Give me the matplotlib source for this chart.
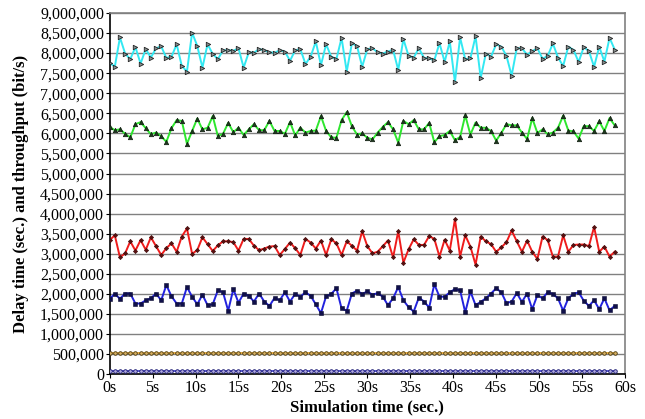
import numpy as np
import matplotlib.pyplot as plt
from matplotlib.ticker import FuncFormatter, MultipleLocator

# sample times (s), one value every 0.6 s
times = [i * 0.6 for i in range(99)]

# values, in millions
cyan_series = [7.76, 7.66, 8.39, 7.99, 7.85, 8.15, 7.74, 8.10, 7.89, 8.12,
               8.17, 7.88, 7.91, 8.22, 7.68, 7.54, 8.51, 8.18, 7.64, 8.22,
               7.98, 7.85, 8.07, 8.07, 8.06, 8.12, 7.64, 8.02, 8.01, 8.10,
               8.07, 8.02, 8.01, 8.07, 8.04, 7.81, 8.07, 8.10, 7.73, 7.91,
               8.29, 7.70, 8.22, 7.91, 7.85, 8.38, 7.54, 8.24, 8.18, 7.66,
               8.10, 8.12, 8.02, 7.99, 8.04, 8.08, 7.58, 8.35, 7.93, 7.89,
               8.12, 7.88, 7.87, 7.82, 8.25, 7.78, 8.29, 7.28, 8.39, 7.85,
               7.87, 8.42, 7.38, 7.99, 7.91, 8.22, 8.16, 7.93, 7.44, 8.12,
               8.12, 7.96, 8.05, 8.12, 7.86, 7.93, 8.24, 7.89, 7.68, 8.16,
               8.08, 7.78, 8.15, 8.05, 7.66, 8.16, 7.79, 8.38, 8.09]

green_series = [6.16, 6.08, 6.10, 5.99, 5.90, 6.23, 6.28, 6.13, 5.98, 6.02,
                5.93, 5.79, 6.13, 6.33, 6.31, 5.74, 6.06, 6.37, 6.10, 6.14,
                6.43, 5.93, 5.99, 6.26, 6.03, 6.14, 5.96, 6.10, 6.23, 6.08,
                6.08, 6.31, 6.06, 6.06, 5.99, 6.28, 5.95, 6.14, 6.02, 6.06,
                6.07, 6.43, 6.06, 5.90, 5.89, 6.33, 6.53, 6.18, 5.97, 6.00,
                5.89, 5.85, 6.02, 6.16, 6.28, 6.10, 5.77, 6.31, 6.23, 6.33,
                6.10, 6.10, 6.26, 5.78, 5.93, 5.96, 6.06, 5.83, 5.91, 6.45,
                5.97, 6.27, 6.14, 6.14, 6.06, 5.82, 6.01, 6.23, 6.20, 6.20,
                6.02, 5.86, 6.38, 6.01, 6.10, 5.98, 6.02, 6.14, 6.44, 6.07,
                6.05, 5.87, 6.18, 6.18, 6.06, 6.30, 6.06, 6.38, 6.20]

red_series = [3.34, 3.46, 2.91, 3.01, 3.31, 3.08, 3.34, 3.10, 3.41, 3.19,
              2.97, 3.14, 3.26, 3.05, 3.43, 3.63, 3.00, 3.09, 3.41, 3.24,
              3.07, 3.21, 3.31, 3.31, 3.29, 3.08, 3.37, 3.37, 3.20, 3.09,
              3.13, 3.18, 3.19, 2.97, 3.12, 3.28, 3.14, 2.97, 3.37, 3.28,
              3.13, 3.33, 2.97, 3.36, 3.26, 2.97, 3.31, 3.20, 3.08, 3.56,
              3.19, 3.01, 3.05, 3.19, 3.33, 2.91, 3.56, 2.78, 3.11, 3.36,
              3.22, 3.22, 3.44, 3.37, 2.93, 3.35, 3.08, 3.86, 2.93, 3.46,
              3.18, 2.73, 3.43, 3.31, 3.24, 3.05, 3.16, 3.29, 3.58, 3.31,
              3.05, 3.33, 3.05, 2.87, 3.43, 3.34, 2.93, 2.93, 3.46, 3.05,
              3.22, 3.23, 3.23, 3.19, 3.67, 3.05, 3.18, 2.93, 3.05]

blue_series = [1.88, 2.00, 1.88, 2.01, 2.01, 1.76, 1.76, 1.84, 1.89, 2.01,
               1.84, 2.22, 1.94, 1.76, 1.76, 2.17, 1.93, 1.74, 1.98, 1.72,
               1.74, 2.09, 2.04, 1.58, 2.12, 1.78, 2.01, 1.95, 1.81, 2.01,
               1.81, 1.70, 1.90, 1.84, 2.04, 1.81, 2.00, 1.93, 2.04, 1.95,
               1.74, 1.52, 1.94, 2.00, 2.14, 1.64, 1.58, 2.01, 2.08, 2.00,
               2.06, 1.98, 2.02, 1.93, 1.72, 1.89, 2.17, 1.84, 1.67, 1.56,
               1.91, 1.81, 1.66, 2.24, 1.93, 1.93, 2.04, 2.12, 2.09, 1.54,
               2.06, 1.72, 1.80, 1.89, 2.01, 2.14, 2.04, 1.77, 1.81, 2.02,
               1.80, 2.01, 1.62, 1.97, 1.89, 2.04, 2.00, 1.89, 1.58, 1.89,
               2.00, 2.04, 1.83, 1.70, 1.84, 1.62, 1.89, 1.59, 1.70]

# the two bottom series are flat on the chart
orange_series = [0.52] * 99
purple_series = [0.08] * 99

x_ticks = list(range(0, 61, 5))
x_tick_labels = [f"{t}s" for t in x_ticks]

plt.rcParams['font.family'] = ['Liberation Serif', 'DejaVu Serif']

fig = plt.figure(figsize=(6.45, 4.19), dpi=100)
ax = fig.add_axes([0.170, 0.107, 0.799, 0.862])

t = np.array(times)
ax.plot(t, np.array(cyan_series) * 1e6, color='#33e8f2', lw=1.4,
        marker='>', ms=3.2, mfc='#8a9090', mec='#222222', mew=0.6, zorder=3)
ax.plot(t, np.array(green_series) * 1e6, color='#2ee62e', lw=1.4,
        marker='^', ms=3.2, mfc='#1f3a1f', mec='#0d1a0d', mew=0.5, zorder=3)
ax.plot(t, np.array(red_series) * 1e6, color='#ee1c1c', lw=1.4,
        marker='D', ms=2.2, mfc='#5a1010', mec='#3a0a0a', mew=0.4, zorder=3)
ax.plot(t, np.array(blue_series) * 1e6, color='#2222dd', lw=1.4,
        marker='s', ms=3.0, mfc='#10104a', mec='#0a0a30', mew=0.4, zorder=3)
ax.plot(t, np.array(orange_series) * 1e6, color='#e8a020', lw=1.2,
        marker='o', ms=2.6, mfc='#d8b060', mec='#4a3a10', mew=0.6, zorder=3)
ax.plot(t, np.array(purple_series) * 1e6, color='#3a3ad0', lw=1.2,
        marker='o', ms=2.6, mfc='#b0a8e0', mec='#1a1a70', mew=0.6, zorder=3)

ax.set_xlim(0, 60)
ax.set_ylim(0, 9000000)
ax.yaxis.set_major_locator(MultipleLocator(500000))
ax.yaxis.set_major_formatter(FuncFormatter(lambda v, p: f"{int(round(v)):,}"))
ax.set_xticks(x_ticks)
ax.set_xticklabels(x_tick_labels)

ax.grid(True, axis='y', color='#808080', lw=1.0, zorder=0)
ax.tick_params(axis='both', labelsize=11.5, length=3, direction='out',
               pad=1, colors='black')
for side in ['left', 'bottom']:
    ax.spines[side].set_color('black')
    ax.spines[side].set_linewidth(1.2)
for side in ['top', 'right']:
    ax.spines[side].set_color('#808080')
    ax.spines[side].set_linewidth(1.2)

ax.set_xlabel('Simulation time (sec.)', fontsize=12, fontweight='bold', labelpad=3)
ax.set_ylabel('Delay time (sec.) and throughput (bit/s)', fontsize=12,
              fontweight='bold', labelpad=8)

fig.savefig('out.png', dpi=100)
